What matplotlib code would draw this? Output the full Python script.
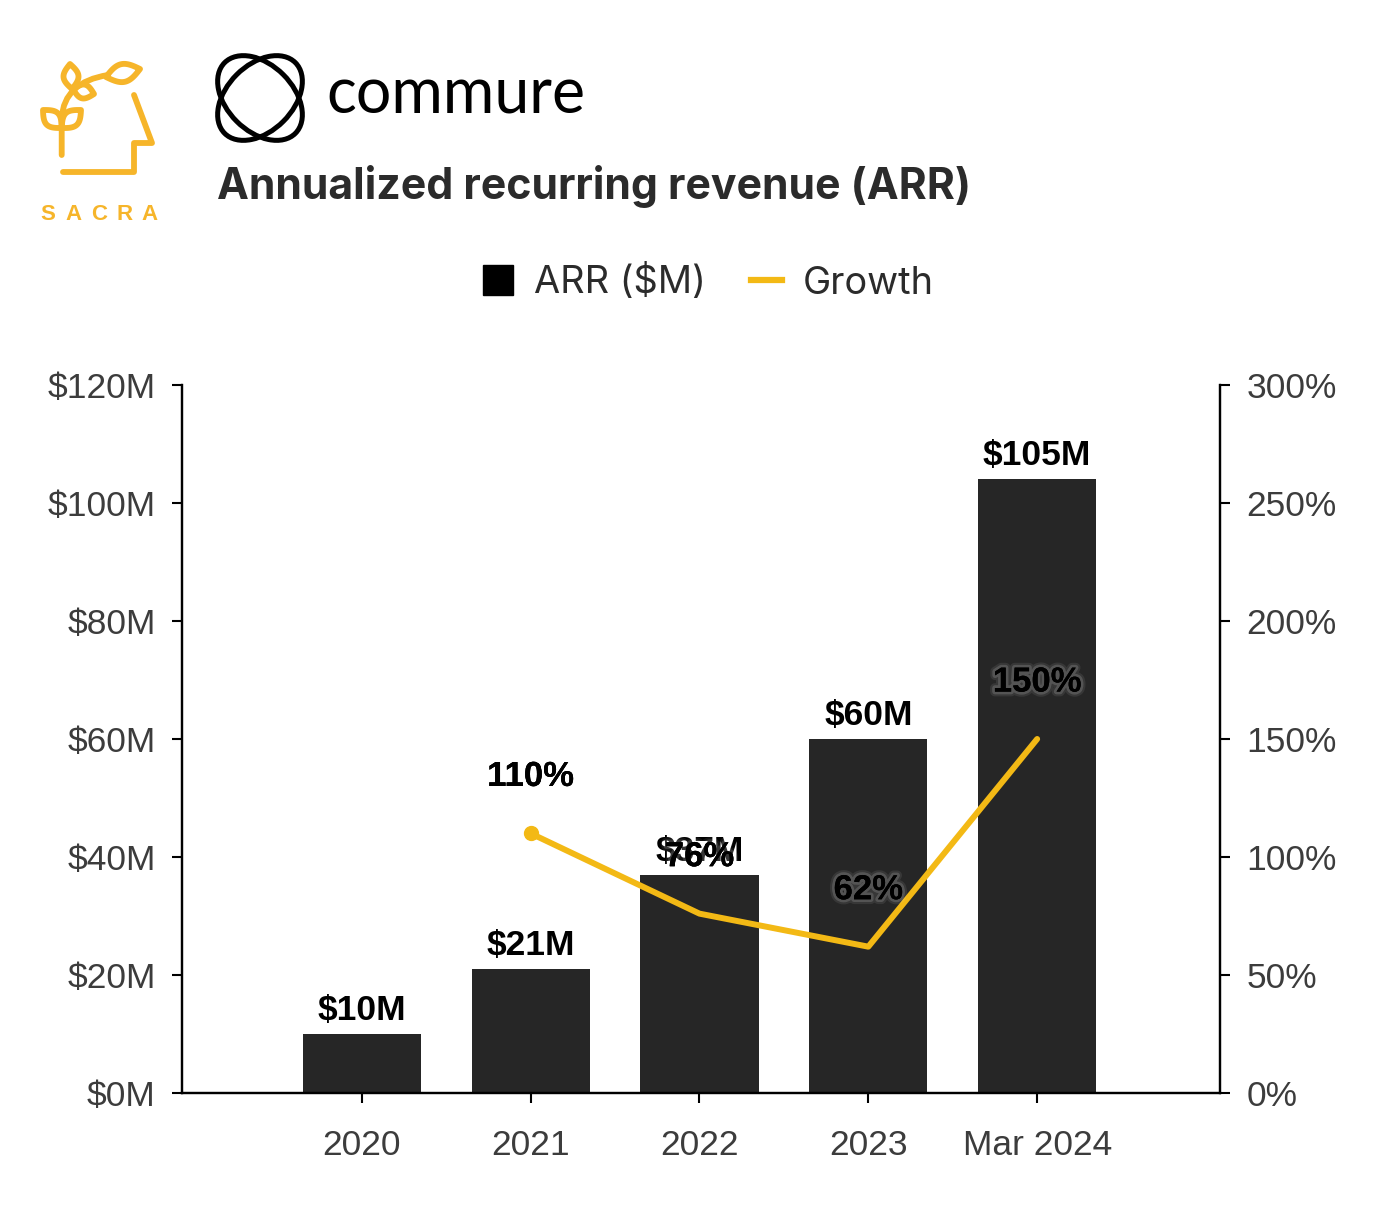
import matplotlib.pyplot as plt
import matplotlib.patheffects as pe
import numpy as np
from matplotlib.lines import Line2D
from matplotlib.patches import Ellipse, Polygon, PathPatch
from matplotlib.path import Path

periods = ["2020", "2021", "2022", "2023", "Mar 2024"]
arr_values = [10, 21, 37, 60, 104]
arr_labels = ["$10M", "$21M", "$37M", "$60M", "$105M"]
growth_periods = ["2021", "2022", "2023", "Mar 2024"]
growth_values = [110, 76, 62, 150]

BAR_COLOR = "#262626"
LINE_COLOR = "#F3B915"
LOGO_YELLOW = "#F6B52A"
TEXT_DARK = "#2b2b2b"
TICK_GRAY = "#3c3c3c"

plt.rcParams["font.family"] = ["Liberation Sans", "DejaVu Sans"]

W, H = 1392, 1215
fig = plt.figure(figsize=(W / 100, H / 100), dpi=100)

# main chart axes
ax1 = fig.add_axes([182 / W, 1 - 1093 / H, (1220 - 182) / W, (1093 - 385) / H])
ax2 = ax1.twinx()

x = np.arange(len(periods))
ax1.bar(x, arr_values, width=0.7, color=BAR_COLOR, zorder=2)
ax1.set_ylim(0, 120)
ax1.set_xlim(-1.065, 5.083)
ax1.set_yticks(np.arange(0, 121, 20))
ax1.set_yticklabels([f"${v}M" for v in range(0, 121, 20)])
ax1.set_xticks(x)
ax1.set_xticklabels(periods)

for xi, v, lab in zip(x, arr_values, arr_labels):
    ax1.annotate(lab, (xi, v), xytext=(0, 5), textcoords="offset points",
                 ha="center", va="bottom", fontsize=25.5, fontweight="bold",
                 color="black", zorder=5)

gx = [periods.index(p) for p in growth_periods]
ax2.plot(gx, growth_values, color=LINE_COLOR, lw=4.3, marker="o",
         markevery=[0], markersize=10, solid_capstyle="round", zorder=3)
ax2.set_ylim(0, 300)
ax2.set_yticks(np.arange(0, 301, 50))
ax2.set_yticklabels([f"{v}%" for v in range(0, 301, 50)])

# soft light glow behind the growth labels (only visible on the dark bars)
glow = [
    pe.withStroke(linewidth=7, foreground="white", alpha=0.08),
    pe.withStroke(linewidth=4, foreground="white", alpha=0.15),
    pe.Normal(),
]
for xi, v in zip(gx, growth_values):
    ax2.annotate(f"{v}%", (xi, v), xytext=(0, 41), textcoords="offset points",
                 ha="center", va="center", fontsize=25, fontweight="bold",
                 color="black", zorder=6, path_effects=glow)

for ax in (ax1, ax2):
    ax.spines["top"].set_visible(False)
    for s in ("left", "right", "bottom"):
        ax.spines[s].set_linewidth(1.6)
        ax.spines[s].set_color("black")
    ax.patch.set_visible(False)

ax1.tick_params(axis="y", length=7, width=1.5, pad=12, labelsize=25.5, labelcolor=TICK_GRAY)
ax1.tick_params(axis="x", length=7, width=1.5, pad=19, labelsize=25.5, labelcolor=TICK_GRAY)
ax2.tick_params(axis="y", length=7, width=1.5, pad=12, labelsize=25.5, labelcolor=TICK_GRAY)

# legend
handles = [
    Line2D([], [], marker="s", color="black", linestyle="none", markersize=22),
    Line2D([], [], color=LINE_COLOR, lw=4.5),
]
leg = fig.legend(handles, ["ARR ($M)", "Growth"], loc="center",
                 bbox_to_anchor=(708 / W, 1 - 283 / H), ncol=2, frameon=False,
                 handlelength=0.8, handletextpad=0.55, columnspacing=1.2,
                 prop={"family": ["Inter", "DejaVu Sans"], "size": 27.3})
for t in leg.get_texts():
    t.set_color(TEXT_DARK)

# header overlay in pixel coordinates
ov = fig.add_axes([0, 0, 1, 1])
ov.set_xlim(0, W)
ov.set_ylim(H, 0)
ov.set_axis_off()

ov.text(217, 199, "Annualized recurring revenue (ARR)", fontsize=30.8, fontweight="bold",
        family=["Inter", "DejaVu Sans"], color=TEXT_DARK, ha="left", va="baseline")
ov.text(326, 113, "commure", fontsize=45, family=["Lato", "DejaVu Sans"],
        color="black", ha="left", va="baseline")

# commure mark
for ang in (45, -45):
    ov.add_patch(Ellipse((260, 98), 100, 66, angle=ang, fill=False, lw=3.6, color="black"))

# sacra mark
lw_logo = 4.2
ov.plot([134, 152, 134, 134, 63], [95, 143, 143, 172, 172], color=LOGO_YELLOW,
        lw=lw_logo, solid_capstyle="round", solid_joinstyle="round")
stem = Path([(61.7, 155), (61.7, 118), (64, 82), (108, 75)],
            [Path.MOVETO, Path.LINETO, Path.CURVE3, Path.CURVE3])
ov.add_patch(PathPatch(stem, fill=False, color=LOGO_YELLOW, lw=lw_logo, capstyle="round"))


def leaf(base, tip, half_w):
    b = np.array(base, float)
    t = np.array(tip, float)
    d = t - b
    n = np.array([-d[1], d[0]]) / np.hypot(*d)
    s = np.linspace(0, 1, 30)
    side1 = [b + si * d + n * half_w * np.sin(np.pi * si) for si in s]
    side2 = [b + si * d - n * half_w * np.sin(np.pi * si) for si in s[::-1]]
    return Polygon(side1 + side2, closed=True, fill=False, color=LOGO_YELLOW,
                   lw=lw_logo, joinstyle="round")


ov.add_patch(leaf((61.7, 128), (43, 110), 8))
ov.add_patch(leaf((61.7, 128), (81, 110), 8))
ov.add_patch(leaf((72, 89), (70, 64), 7.5))
ov.add_patch(leaf((73, 89), (94, 94), 7))
ov.add_patch(leaf((106, 77), (140, 69), 9))

for i, ch in enumerate("SACRA"):
    ov.text(48 + i * 25.5, 215, ch, fontsize=16, fontweight="bold", color=LOGO_YELLOW,
            ha="center", va="center")

fig.savefig("out.png", dpi=100)
